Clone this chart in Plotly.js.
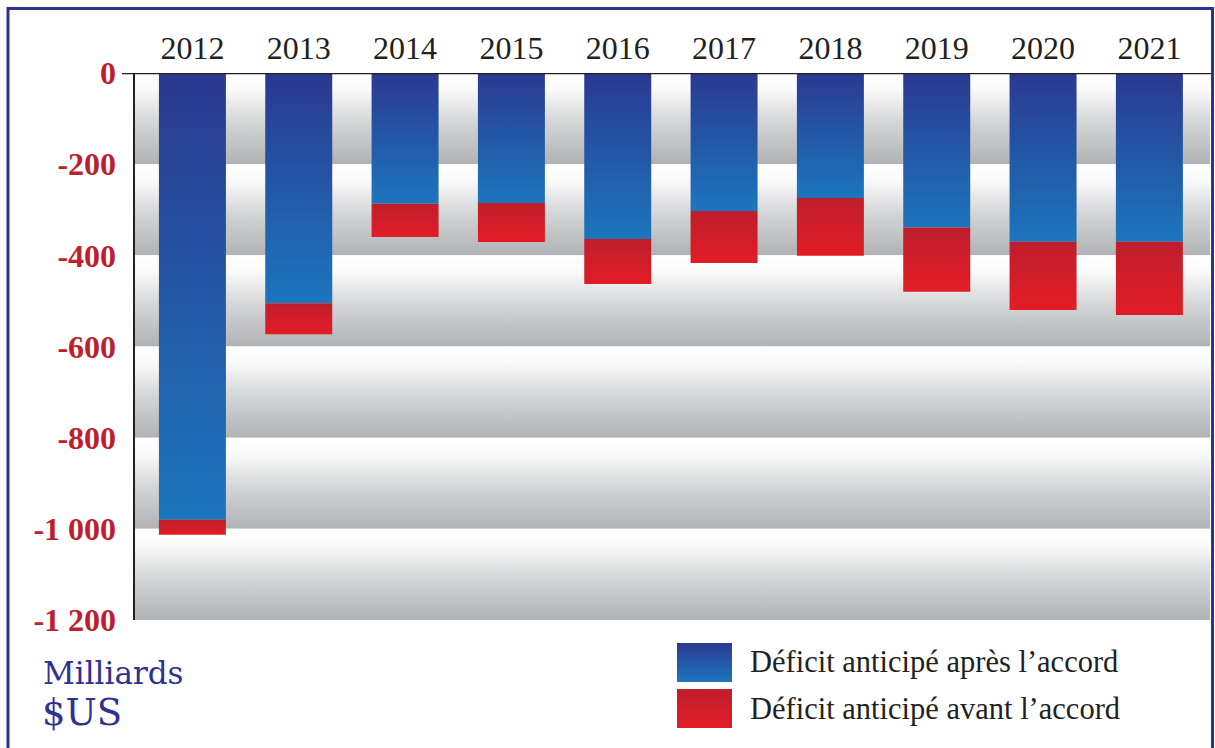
<!DOCTYPE html>
<html>
<head>
<meta charset="utf-8">
<script src="https://cdn.plot.ly/plotly-3.0.1.min.js"></script>
<style>
  html, body { margin: 0; padding: 0; background: #ffffff; }
  #chart { width: 1215px; height: 748px; }
</style>
</head>
<body>
<div id="chart"></div>
<script>
// ---- Data (billions US$) ----
const years = ['2012', '2013', '2014', '2015', '2016', '2017', '2018', '2019', '2020', '2021'];
const deficitApres = [-980, -505, -287, -285, -364, -303, -274, -339, -370, -370];
const deficitAvant = [-1013, -573, -360, -371, -463, -417, -401, -480, -520, -531];
const yTickVals = [0, -200, -400, -600, -800, -1000, -1200];
const yTickText = ['0', '-200', '-400', '-600', '-800', '-1 000', '-1 200'];
const seriesNames = ['Déficit anticipé après l’accord', 'Déficit anticipé avant l’accord'];

// ---- Styling ----
const W = 1215, H = 748;
const plotL = 135, plotR = 1210, plotT = 73, plotB = 620;
const xRange = [-0.54, 9.57];
const halfBar = 0.315;
const blueScale = [[0, '#1c76bd'], [1, '#2b3990']];
const redScale = [[0, '#e31c25'], [1, '#be1e2d']];
const bandScale = [[0, '#b1b2b4'], [0.45, '#d3d4d5'], [0.82, '#fafafa'], [1, '#ffffff']];
const serif = 'Liberation Serif, Times New Roman, serif';

const traces = [];

// background gradient bands between consecutive y ticks
for (let k = 0; k < yTickVals.length - 1; k++) {
  const top = yTickVals[k], bot = yTickVals[k + 1];
  traces.push({
    type: 'scatter', mode: 'lines', fill: 'toself',
    x: [xRange[0], xRange[1], xRange[1], xRange[0], xRange[0]],
    y: [top, top, bot, bot, top],
    line: { width: 0, color: 'rgba(0,0,0,0)' },
    fillgradient: { type: 'vertical', colorscale: bandScale },
    hoverinfo: 'skip', showlegend: false
  });
}

// bars drawn as gradient-filled rectangles
function rect(i, y0, y1, scale, name) {
  const xl = i - halfBar, xr = i + halfBar;
  return {
    type: 'scatter', mode: 'lines', fill: 'toself', name: name,
    x: [xl, xr, xr, xl, xl],
    y: [y0, y0, y1, y1, y0],
    line: { width: 0, color: 'rgba(0,0,0,0)' },
    fillgradient: { type: 'vertical', colorscale: scale },
    hoverinfo: 'skip', showlegend: false
  };
}
years.forEach((yr, i) => {
  traces.push(rect(i, 0, deficitApres[i], blueScale, seriesNames[0]));
  traces.push(rect(i, deficitApres[i], deficitAvant[i], redScale, seriesNames[1]));
});

// legend swatches on an auxiliary axis (pixel units)
function swatch(y0, y1, scale) {
  return {
    type: 'scatter', mode: 'lines', fill: 'toself', xaxis: 'x2', yaxis: 'y2',
    x: [0, 55, 55, 0, 0], y: [y0, y0, y1, y1, y0],
    line: { width: 0, color: 'rgba(0,0,0,0)' },
    fillgradient: { type: 'vertical', colorscale: scale },
    hoverinfo: 'skip', showlegend: false
  };
}
traces.push(swatch(46, 85, blueScale));
traces.push(swatch(0, 39, redScale));

const px = v => v / W;
const py = v => 1 - v / H;

const layout = {
  width: W, height: H,
  margin: { l: 0, r: 0, t: 0, b: 0 },
  paper_bgcolor: '#ffffff', plot_bgcolor: 'rgba(0,0,0,0)',
  showlegend: false,
  xaxis: {
    domain: [px(plotL), px(plotR)], range: xRange, side: 'top', anchor: 'y',
    tickmode: 'array', tickvals: years.map((_, i) => i), ticktext: years,
    showgrid: false, zeroline: false, showline: false, ticks: '',
    ticklabelstandoff: 7,
    tickfont: { family: serif, size: 32, color: '#231f20' },
    fixedrange: true
  },
  yaxis: {
    domain: [py(plotB), py(plotT)], range: [-1200, 0], anchor: 'x',
    tickmode: 'array', tickvals: yTickVals, ticktext: yTickText,
    showgrid: false, zeroline: false,
    showline: true, linecolor: '#231f20', linewidth: 2.5, ticks: '',
    ticklabelstandoff: 10,
    tickfont: { family: serif, size: 32, color: '#be1e2d', weight: 'bold' },
    fixedrange: true
  },
  xaxis2: {
    domain: [px(677), px(732)], range: [0, 55], anchor: 'y2',
    visible: false, fixedrange: true
  },
  yaxis2: {
    domain: [py(728), py(643)], range: [0, 85], anchor: 'x2',
    visible: false, fixedrange: true
  },
  shapes: [
    // top baseline (value 0), extends a bit left of the axis
    { type: 'line', xref: 'paper', yref: 'y', x0: px(122), x1: px(1212), y0: 0, y1: 0,
      line: { color: '#231f20', width: 2.5 }, layer: 'above' },
    // outer blue frame
    { type: 'rect', xref: 'paper', yref: 'paper', x0: px(8), x1: px(1212.5), y0: -0.05, y1: py(8.5),
      line: { color: '#2e3192', width: 3 }, fillcolor: 'rgba(0,0,0,0)', layer: 'above' }
  ],
  annotations: [
    { xref: 'paper', yref: 'paper', x: px(748), y: py(662), xanchor: 'left', yanchor: 'middle',
      text: seriesNames[0], showarrow: false,
      font: { family: serif, size: 30.5, color: '#231f20' } },
    { xref: 'paper', yref: 'paper', x: px(748), y: py(709), xanchor: 'left', yanchor: 'middle',
      text: seriesNames[1], showarrow: false,
      font: { family: serif, size: 30.5, color: '#231f20' } },
    { xref: 'paper', yref: 'paper', x: px(41), y: py(673), xanchor: 'left', yanchor: 'middle',
      text: 'Milliards', showarrow: false,
      font: { family: 'DejaVu Serif, serif', size: 31, color: '#2e3192' } },
    { xref: 'paper', yref: 'paper', x: px(40), y: py(712), xanchor: 'left', yanchor: 'middle',
      text: '$US', showarrow: false,
      font: { family: 'DejaVu Serif, serif', size: 37, color: '#2e3192' } }
  ]
};

Plotly.newPlot('chart', traces, layout, { staticPlot: true, displayModeBar: false });
</script>
</body>
</html>
